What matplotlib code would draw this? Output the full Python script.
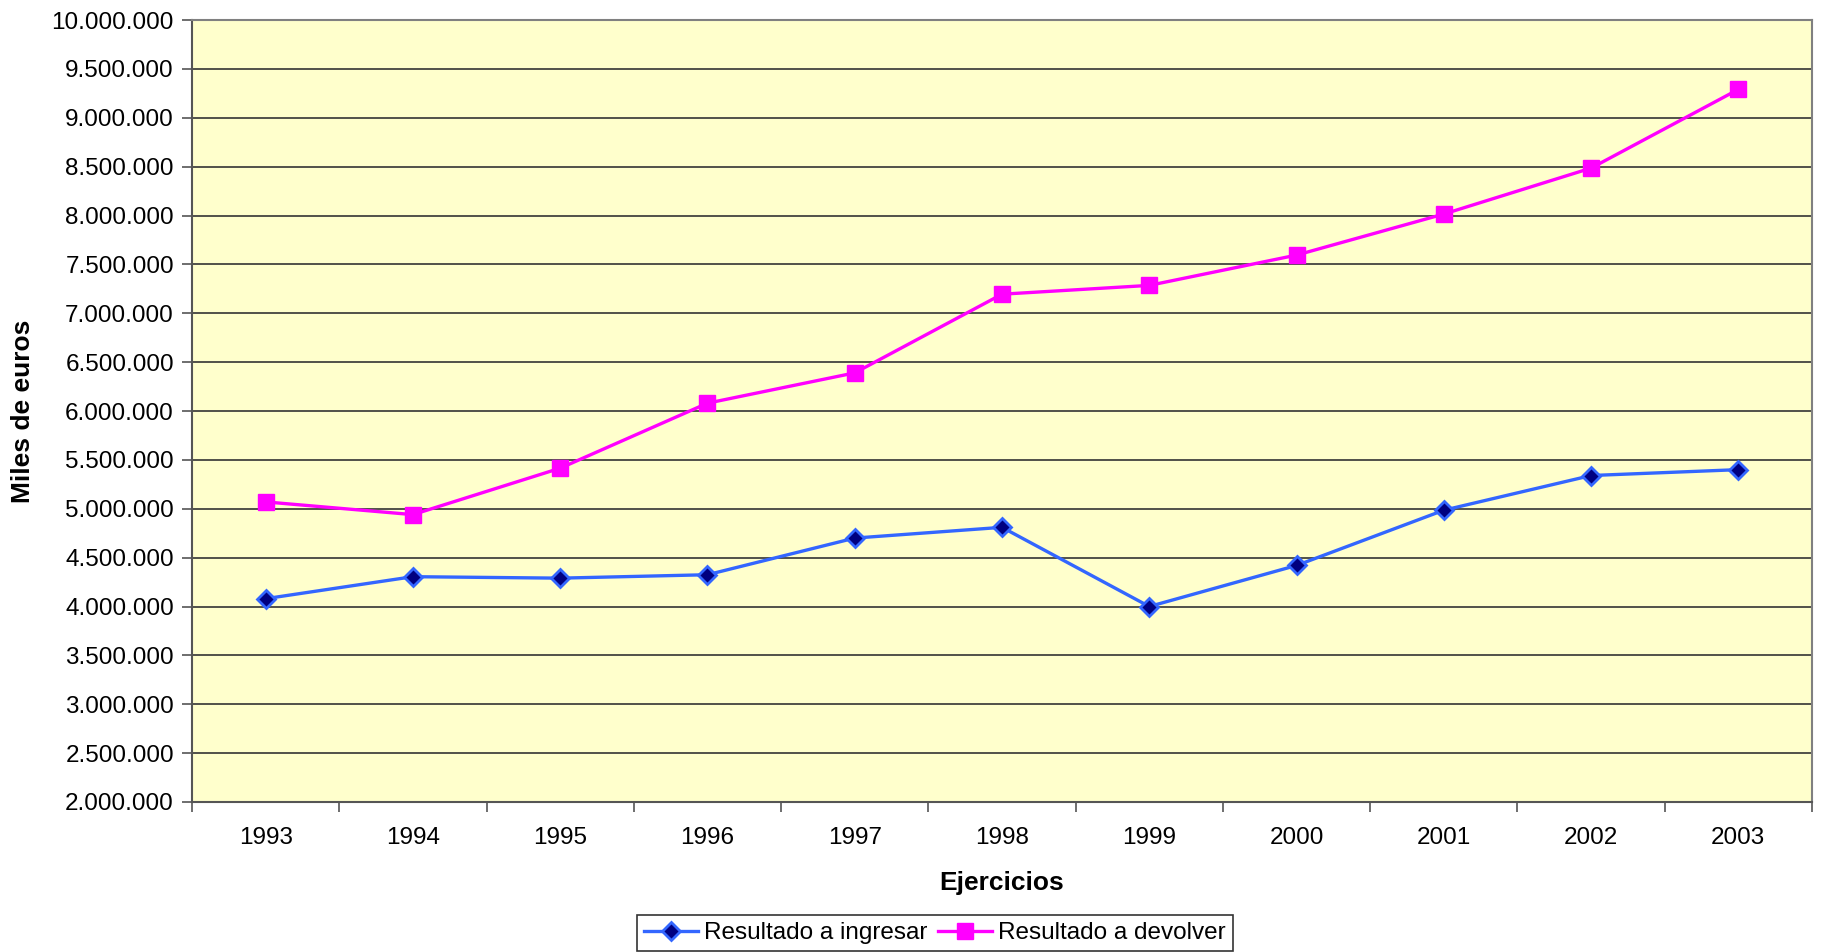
import matplotlib
matplotlib.use("Agg")
import matplotlib.pyplot as plt
from matplotlib.ticker import FuncFormatter, FixedLocator, MultipleLocator

plt.rcParams['font.family'] = ['Liberation Sans', 'DejaVu Sans']

years = ['1993', '1994', '1995', '1996', '1997', '1998', '1999', '2000', '2001', '2002', '2003']
ingresar = [4080000, 4305000, 4290000, 4325000, 4700000, 4810000, 4000000, 4420000, 4985000, 5340000, 5400000]
devolver = [5070000, 4940000, 5415000, 6080000, 6390000, 7195000, 7285000, 7595000, 8015000, 8485000, 9290000]

fig = plt.figure(figsize=(18.23, 9.52), dpi=100)
ax = fig.add_axes([192 / 1823, 1 - 802 / 952, (1812 - 192) / 1823, (802 - 20) / 952])
ax.set_facecolor('#FFFFCC')

x = list(range(len(years)))
ax.plot(x, ingresar, '-D', color='#3366FF', lw=2.4, ms=9,
        mfc='#000080', mec='#3366FF', mew=2, label='Resultado a ingresar', zorder=3)
ax.plot(x, devolver, '-s', color='#FF00FF', lw=2.4, ms=11.5,
        mfc='#FF00FF', mec='#FF00FF', label='Resultado a devolver', zorder=3)

ax.set_xlim(-0.5, len(years) - 0.5)
ax.set_ylim(2000000, 10000000)
ax.yaxis.set_major_locator(MultipleLocator(500000))
ax.yaxis.set_major_formatter(FuncFormatter(lambda v, p: f'{int(v):,}'.replace(',', '.')))
ax.grid(axis='y', color='#333333', lw=1.2, zorder=1)

# category ticks sit between the years, labels at the centres
ax.xaxis.set_major_locator(FixedLocator([i - 0.5 for i in range(len(years) + 1)]))
ax.xaxis.set_major_formatter(FuncFormatter(lambda v, p: ''))
ax.xaxis.set_minor_locator(FixedLocator(x))
ax.set_xticks(x, years, minor=True)
ax.tick_params(axis='x', which='minor', length=0, pad=18, labelsize=17.5)
ax.tick_params(axis='x', which='major', length=7, width=1.2, color='#555555')
ax.tick_params(axis='y', length=7, width=1.2, color='#555555', labelsize=17.5, pad=6)

for s in ax.spines.values():
    s.set_color('#808080')
    s.set_linewidth(1.5)
ax.spines['left'].set_color('#555555')
ax.spines['bottom'].set_color('#555555')

ax.set_xlabel('Ejercicios', fontsize=19, fontweight='bold', labelpad=16)
ax.set_ylabel('Miles de euros', fontsize=19, fontweight='bold', labelpad=12)

leg = fig.legend(loc='center', bbox_to_anchor=(935 / 1823, 1 - 933 / 952), ncol=2,
                 fontsize=17.5, frameon=True, fancybox=False, edgecolor='black',
                 handlelength=2.2, handletextpad=0.25, columnspacing=0.45,
                 borderpad=0.3, borderaxespad=0)
leg.get_frame().set_linewidth(1.2)

fig.savefig('out.png', dpi=100)
